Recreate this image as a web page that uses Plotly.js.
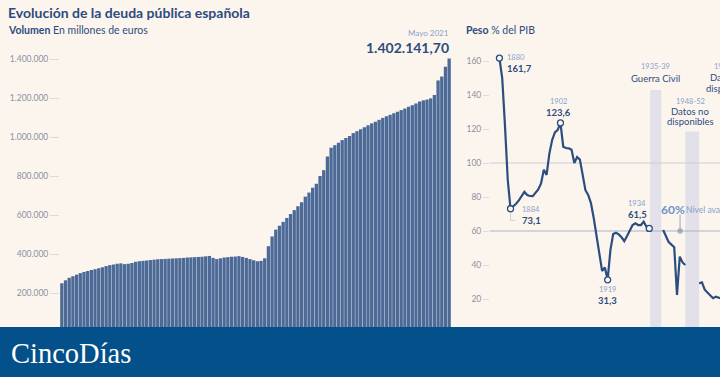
<!DOCTYPE html>
<html><head><meta charset="utf-8">
<script src="https://cdn.plot.ly/plotly-3.0.1.min.js"></script>
<style>html,body{margin:0;padding:0;background:#fcf5ee;}#chart{width:720px;height:377px;}</style>
</head><body><div id="chart"></div>
<script>
// ---------- Volumen (millones de euros), trimestral ----------
const anioInicio = 1995;
const deuda = [250000,265000,278000,286000,294000,302000,308000,313000,318000,322000,
327000,332000,338000,343000,346000,350000,352000,348000,350000,354000,
360000,363000,365000,367000,369000,371000,373000,374000,375000,376000,
377000,378000,379000,380000,382000,383000,384000,385000,386000,388000,
390000,380000,374000,378000,382000,384000,386000,387000,389000,385000,
380000,374000,368000,363000,365000,378000,440000,490000,525000,545000,
565000,585000,605000,625000,645000,665000,694000,715000,740000,760000,
800000,830000,900000,945000,958000,970000,984000,995000,1005000,1020000,
1030000,1040000,1050000,1060000,1070000,1078000,1088000,1098000,1106000,1114000,
1122000,1130000,1138000,1146000,1155000,1163000,1172000,1182000,1188000,1192000,
1198000,1215000,1290000,1310000,1360000,1402142];
const trimestres = deuda.map((_, i) => 'T' + (i % 4 + 1) + ' ' + (anioInicio + Math.floor(i / 4)));
const ticksVolumen = [200000,400000,600000,800000,1000000,1200000,1400000];
const ticksVolumenTexto = ['200.000','400.000','600.000','800.000','1.000.000','1.200.000','1.400.000'];
const ultimoMes = 'Mayo 2021';
const ultimoDato = '1.402.141,70';

// ---------- Peso % del PIB, anual ----------
const anios = [1880,1881,1882,1883,1884,1885,1886,1887,1888,1889,
1890,1891,1892,1893,1894,1895,1896,1897,1898,1899,
1900,1901,1902,1903,1904,1905,1906,1907,1908,1909,
1910,1911,1912,1913,1914,1915,1916,1917,1918,1919,
1920,1921,1922,1923,1924,1925,1926,1927,1928,1929,
1930,1931,1932,1933,1934,1935,1936,1937,1938,1939,
1940,1941,1942,1943,1944,1945,1946,1947,1948,1949,
1950,1951,1952,1953,1954,1955,1956,1957,1958,1959,1960];
const pesoPIB = [161.7,150,122,90,73.1,74.5,76,78,80.5,83,
81.2,80.6,80.5,82.2,84.5,88,96,93,105.5,113.5,
118,119.5,123.6,109.6,108.8,108.6,107.8,100,103.5,102,
94,84,81.2,76.3,67.5,56.7,46,36.5,38.5,31.3,
48.8,58.2,59,58,56.3,54,57,60.5,63.5,64.5,
63.5,63.5,65.5,62.5,61.5,null,null,null,null,60.6,
57.5,53.5,52,50.5,22.4,44.9,41.5,40,null,null,
null,null,29.2,29.8,25.5,24,22,20.5,21.3,20.5,20.2];
const ticksPeso = [20,40,60,80,100,120,140,160];
const destacadosAnio = [1880,1884,1902,1919,1934];
const destacadosValor = [161.7,73.1,123.6,31.3,61.5];
const destacadosTexto = ['161,7','73,1','123,6','31,3','61,5'];
const bandasInicio = [1934.3,1947];
const bandasFin = [1938.3,1952];
const bandasAltura = [143,118.5];
const bandasPeriodo = ['1935-39','1948-52'];
const nivelReferencia = 60;
const lineaCien = 100;
const anioMarcaNivel = 1945.1;
const rangoAnios = [1876.6,1959.5];

// ---------- styles ----------
const FONT = 'Lato, "Open Sans", sans-serif';
const AZUL = '#2c4c7d';
const CLARO = '#87a2ca';
const GRIS = '#8b90a3';
const W = 720, H = 377;
const px = x => x / W, py = y => 1 - y / H;

const traces = [
  {type:'bar', x: trimestres, y: deuda, xaxis:'x', yaxis:'y',
   marker:{color:'#4c6a98', line:{width:0}}, hoverinfo:'skip'},
  {type:'bar', x: bandasInicio.map((s,i)=>(s+bandasFin[i])/2), width: bandasInicio.map((s,i)=>bandasFin[i]-s),
   y: bandasAltura, xaxis:'x2', yaxis:'y2', marker:{color:'#e2e0e8', line:{width:0}}, hoverinfo:'skip'},
  {type:'scatter', mode:'lines', x: rangoAnios, y:[lineaCien,lineaCien], xaxis:'x2', yaxis:'y2',
   line:{color:'#cfcdcb', width:1}, hoverinfo:'skip', cliponaxis:false},
  {type:'scatter', mode:'lines', x: rangoAnios, y:[nivelReferencia,nivelReferencia], xaxis:'x2', yaxis:'y2',
   line:{color:'#aab3c4', width:1}, hoverinfo:'skip', cliponaxis:false},
  {type:'scatter', mode:'lines', x:[1884,1884,1885.8], y:[70.5,66.3,66.3], xaxis:'x2', yaxis:'y2',
   line:{color:'#d3cec8', width:1}, hoverinfo:'skip'},
  {type:'scatter', mode:'lines+markers', x:[anioMarcaNivel,anioMarcaNivel], y:[nivelReferencia,69.5], xaxis:'x2', yaxis:'y2',
   line:{color:'#9aa6ba', width:1}, marker:{size:[5,0], color:'#8d9ab2'}, hoverinfo:'skip'},
  {type:'scatter', mode:'lines', x: anios, y: pesoPIB, xaxis:'x2', yaxis:'y2', connectgaps:false,
   line:{color:'#2b4d80', width:2.2}, hoverinfo:'skip', cliponaxis:false},
  {type:'scatter', mode:'markers', x: destacadosAnio, y: destacadosValor, xaxis:'x2', yaxis:'y2',
   marker:{size:6, color:'#fdf8f3', line:{color:'#2b4d80', width:1.3}}, hoverinfo:'skip', cliponaxis:false}
];

const ann = [];
function pa(text, x, y, size, color, anchor, family) {
  ann.push({xref:'paper', yref:'paper', x:px(x), y:py(y), xanchor:anchor||'left', yanchor:'middle',
    text, showarrow:false, font:{family: family||FONT, size, color}});
}
function da(text, x, y, xs, ys, size, color, anchor) {
  ann.push({xref:'x2', yref:'y2', x, y, xshift:xs, yshift:ys, xanchor:anchor, yanchor:'middle',
    text, showarrow:false, font:{family:FONT, size, color}});
}
pa('<b>Evolución de la deuda pública española</b>', 6, 13, 14, AZUL);
pa('<b>Volumen</b> En millones de euros', 6, 30, 10.5, AZUL);
pa(ultimoMes, 451, 33, 8, CLARO, 'right');
pa('<b>' + ultimoDato + '</b>', 451, 48, 14, AZUL, 'right');
pa('<b>Peso</b> % del PIB', 464, 30, 10.5, AZUL);

// highlighted points
const offs = [
  {a:'left', x:6, y1:1, y2:-10},
  {a:'left', x:9, y1:-1, y2:-12},
  {a:'center', x:-1.5, y1:21, y2:10},
  {a:'center', x:0, y1:-10, y2:-21},
  {a:'center', x:-12, y1:25, y2:13.5}
];
destacadosAnio.forEach((a, i) => {
  const o = offs[i];
  da(String(a), a, destacadosValor[i], o.x, o.y1, 7.5, CLARO, o.a);
  da('<b>' + destacadosTexto[i] + '</b>', a, destacadosValor[i], o.x, o.y2, 9.5, AZUL, o.a);
});

// bands labels
const bc = bandasInicio.map((s,i)=>(s+bandasFin[i])/2);
da(bandasPeriodo[0], bc[0], bandasAltura[0], 0, 23.5, 7.5, CLARO, 'center');
da('Guerra Civil', bc[0], bandasAltura[0], 0, 11.7, 9.5, AZUL, 'center');
da(bandasPeriodo[1], bc[1], bandasAltura[1], -2, 30, 7.5, CLARO, 'center');
da('Datos no', bc[1], bandasAltura[1], -2, 20, 9.5, AZUL, 'center');
da('disponibles', bc[1], bandasAltura[1], -2, 10, 9.5, AZUL, 'center');
pa('1960-64', 729, 66, 7.5, CLARO, 'center');
pa('Datos no', 729, 78, 9.5, AZUL, 'center');
pa('disponibles', 729, 88.5, 9.5, AZUL, 'center');

// 60% label
da('<b>60%</b>', 1937.5, 72.4, 0, 0, 12, '#6e93c6', 'left');
da('Nivel avalado por Maastricht', 1946.6, 72.2, 0, 0, 8.5, CLARO, 'left');

// footer logo
pa('CincoDías', 9, 353, 28.5, '#ffffff', 'left', '"Liberation Serif", "DejaVu Serif", serif');

const layout = {
  width: W, height: H, margin:{l:0, r:0, t:0, b:0},
  paper_bgcolor:'#fcf5ee', plot_bgcolor:'rgba(0,0,0,0)',
  showlegend:false, bargap:0.1,
  xaxis:{domain:[px(60), px(451)], type:'category', showticklabels:false, showgrid:false,
         zeroline:false, showline:false, ticks:'', fixedrange:true},
  yaxis:{domain:[py(332), py(20)], range:[0,1600000], tickvals: ticksVolumen, ticktext: ticksVolumenTexto,
         ticks:'outside', ticklen:9, tickcolor:'#dedad5', tickwidth:1, showgrid:false, zeroline:false, showline:false,
         tickfont:{family:FONT, size:8.5, color:GRIS}},
  xaxis2:{domain:[px(490), 1], range: rangoAnios, anchor:'y2', showticklabels:false, showgrid:false,
          zeroline:false, showline:false, ticks:''},
  yaxis2:{domain:[py(333), py(40)], range:[0,172.35], anchor:'x2', tickvals: ticksPeso,
          ticks:'outside', ticklen:6, tickcolor:'#dedad5', tickwidth:1, showgrid:false, zeroline:false, showline:false,
          tickfont:{family:FONT, size:8.5, color:GRIS}},
  shapes:[{type:'rect', xref:'paper', yref:'paper', x0:0, x1:1, y0:0, y1:py(327),
           fillcolor:'#03508a', line:{width:0}, layer:'above'}],
  annotations: ann
};
Plotly.newPlot('chart', traces, layout, {staticPlot:true, displayModeBar:false});
</script></body></html>
